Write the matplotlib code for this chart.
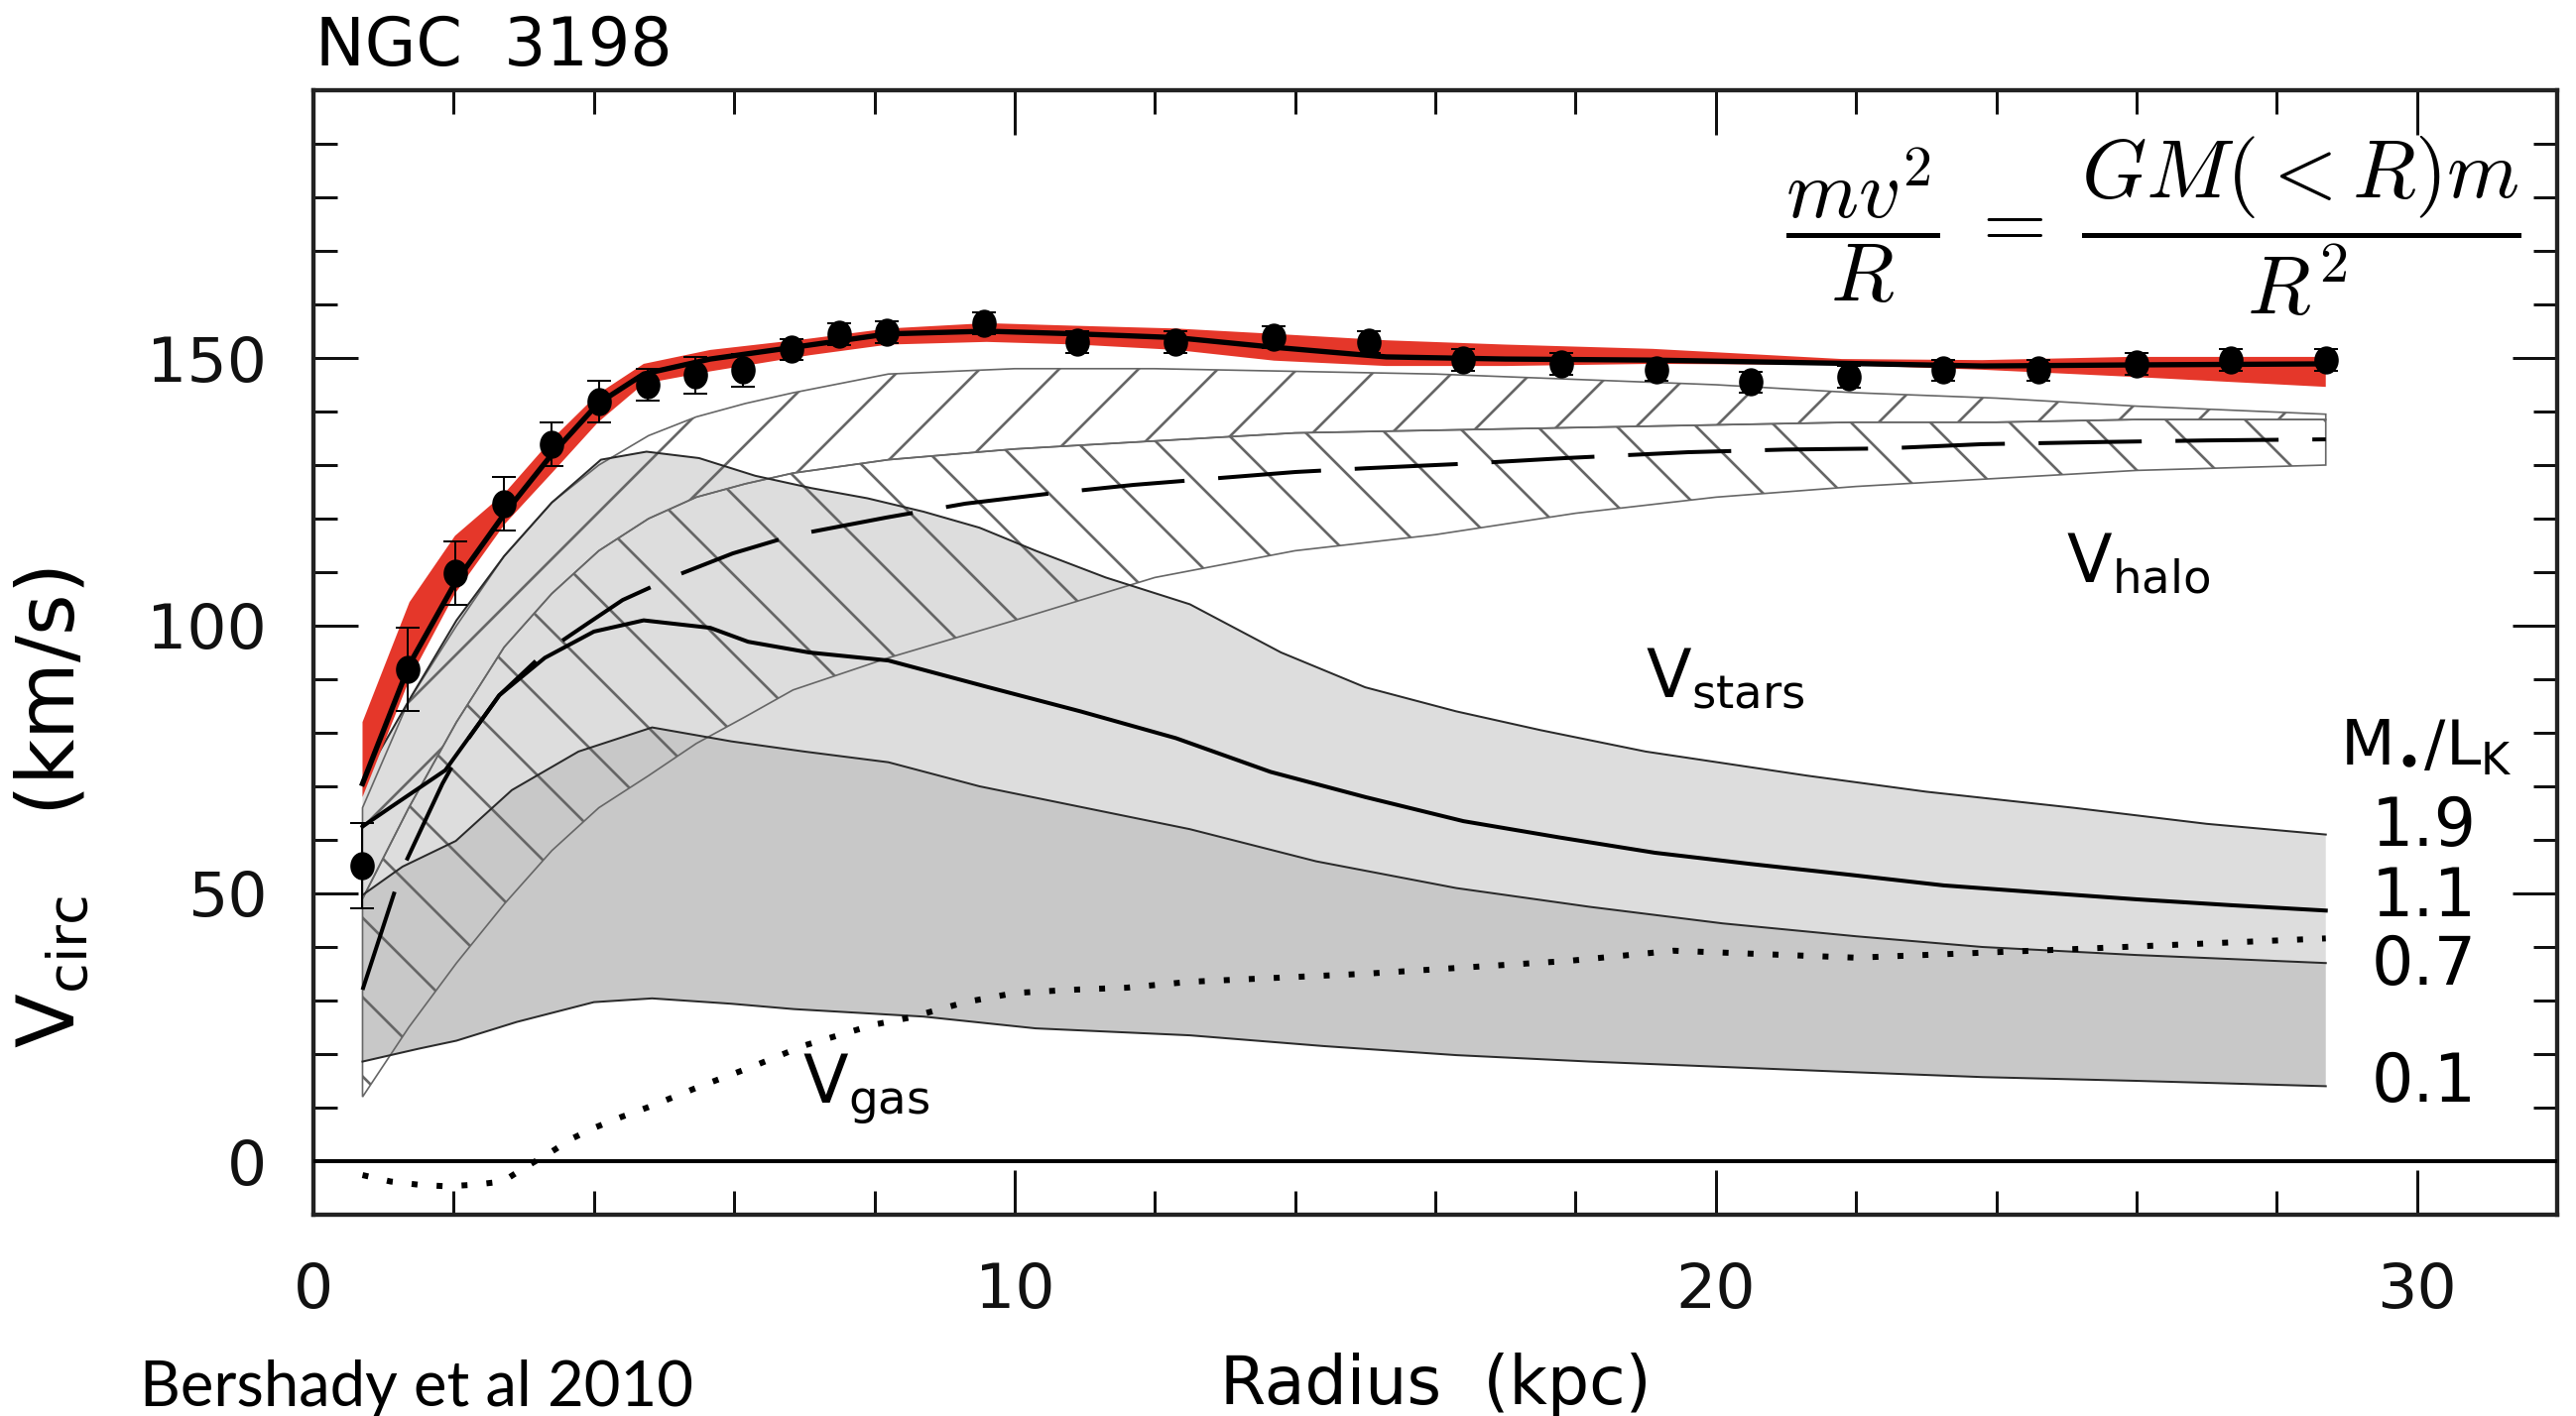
import numpy as np
import matplotlib
matplotlib.use("Agg")
import matplotlib.pyplot as plt
from matplotlib.path import Path
from matplotlib.transforms import Affine2D

plt.rcParams['font.family'] = ['DejaVu Sans']
plt.rcParams['hatch.linewidth'] = 0.8

DPI = 240

# measured rotation curve
r_obs = [0.7, 1.34, 2.02, 2.72, 3.39, 4.07, 4.77, 5.45, 6.12, 6.82, 7.5, 8.17, 9.56,
         10.9, 12.3, 13.7, 15.05, 16.4, 17.8, 19.15, 20.5, 21.9, 23.25, 24.6, 26.0, 27.35, 28.7]
v_obs = [55.2, 91.8, 109.8, 122.7, 133.9, 141.8, 145.0, 146.8, 147.7, 151.6, 154.5, 154.8, 156.5,
         153.0, 153.0, 153.9, 153.0, 149.6, 148.9, 147.7, 145.5, 146.5, 147.7, 147.7, 148.9, 149.6, 149.6]
v_err = [8, 7.8, 5.9, 5, 4, 3.9, 3, 3.4, 3, 2, 2, 2, 2, 2, 2, 2, 2, 2, 2, 2, 2, 2, 2, 2, 2, 2, 2]

# total model fit and its uncertainty band
r_fit = [0.7, 1.37, 2.02, 2.73, 3.4, 4.06, 4.71, 5.66, 7.07, 8.2, 9.6, 10.9, 12.3, 13.7,
         15.3, 17.0, 19.1, 21.8, 23.8, 25.9, 28.7]
v_fit = [70.5, 92.8, 108, 121, 132, 141.5, 147, 149.8, 152.4, 154.5, 155, 154.5, 153.8, 152.0,
         150.2, 149.8, 149.6, 149.0, 148.5, 148.7, 148.9]
v_fit_hi = [82, 104.4, 116.8, 124.8, 134.8, 143.3, 148.9, 151.5, 153.6, 155.5, 156.5, 156, 155.5,
            154.5, 153.3, 152.5, 151.7, 149.8, 149.6, 150.2, 150.2]
v_fit_lo = [68, 90, 106, 119, 128.5, 138, 145.2, 147.5, 150.5, 152.5, 153, 152.5, 151.5, 149.5,
            148.5, 148.5, 148.9, 148.7, 147.8, 146.5, 144.6]

# stellar disk for M*/L_K = 1.9, 1.1, 0.7, 0.1
r_s19 = [0.7, 1.36, 2.04, 2.72, 3.4, 4.1, 4.75, 5.5, 6.3, 7.1, 7.9, 8.7, 9.5, 10.3, 11.3, 12.5,
         13.8, 15.0, 16.3, 17.5, 19.0, 21.3, 23.0, 25.1, 27.0, 28.7]
v_s19 = [71, 86, 101, 113, 123, 131, 132.5, 131.3, 128, 125.7, 123.8, 121.3, 118.3, 114, 109, 104,
         95, 88.5, 84, 80.5, 76.5, 72, 69, 66, 63, 61]
r_s11 = [0.7, 1.09, 1.88, 2.65, 3.3, 4.0, 4.71, 5.66, 6.2, 7.07, 8.2, 9.6, 10.94, 12.3, 13.65,
         15.0, 16.4, 17.75, 19.13, 20.5, 21.9, 23.25, 24.6, 26.0, 27.35, 28.7]
v_s11 = [62.5, 66, 73, 87, 94, 98.9, 101, 99.6, 97, 95, 93.5, 88.6, 84, 79, 72.7, 68, 63.5, 60.5,
         57.6, 55.5, 53.5, 51.5, 50.2, 48.9, 47.8, 46.8]
r_s07 = [0.7, 1.27, 2.03, 2.83, 3.78, 4.83, 5.96, 7.0, 8.2, 9.5, 11.0, 12.5, 14.3, 16.3, 18.2,
         20.1, 22.0, 23.8, 26.0, 28.7]
v_s07 = [49.7, 55, 59.8, 69.3, 76.5, 81, 78.4, 76.5, 74.5, 70, 66, 62, 56, 51, 47.5, 44.4, 42, 40,
         38.5, 37]
r_s01 = [0.7, 1.5, 2.04, 2.9, 4.0, 4.83, 5.96, 6.85, 8.7, 10.3, 12.5, 14.4, 16.3, 18.2, 20.1,
         22.0, 23.8, 26.0, 28.7]
v_s01 = [18.6, 21, 22.5, 26, 29.7, 30.4, 29.4, 28.4, 27, 24.8, 23.5, 21.5, 19.8, 18.6, 17.6,
         16.6, 15.7, 15, 14]

# dark halo for the same range of M*/L_K
r_halo = [0.7, 1.36, 2.04, 2.72, 3.4, 4.07, 4.78, 5.46, 6.16, 6.84, 8.2, 10, 12, 14, 16, 18, 20,
          22, 24, 26, 28.7]
v_halo_01 = [66, 86, 100, 113, 123, 130, 135.5, 139, 141.5, 143.5, 147, 148, 148, 147.5, 147,
             146, 145, 143.5, 142.5, 141, 139.5]
v_halo_07 = [49, 66, 82, 96, 106, 114, 120, 124, 126.5, 128.5, 131, 133, 134.5, 136, 136.5, 137,
             137.5, 138, 138, 138.5, 138.5]
v_halo_19 = [12, 25, 37, 48, 58, 66, 72, 78, 83, 88, 94, 101, 109, 114, 117, 121, 124, 126,
             127.5, 129, 130]
r_h11 = [0.7, 1.25, 1.84, 2.16, 2.65, 3.3, 3.92, 4.41, 5.2, 5.98, 6.85, 8.17, 9.3, 10.45, 11.7,
         12.75, 14.0, 15.0, 16.5, 17.85, 19.6, 21.0, 22.4, 23.8, 25.5, 27.0, 28.7]
v_h11 = [32, 54, 70.5, 78, 87, 95, 100.5, 104.8, 109.5, 113.5, 116.9, 120.2, 122.8, 124.6, 126.3,
         127.4, 128.7, 129.4, 130.3, 131.3, 132.4, 132.9, 133.1, 133.9, 134.3, 134.6, 134.8]

# atomic gas
r_gas = [0.7, 1.1, 1.5, 1.9, 2.3, 2.7, 3.0, 3.4, 3.7, 4.0, 4.4, 4.8, 5.5, 6.25, 7.0, 8.0, 8.5,
         9.3, 10.0, 10.8, 11.6, 12.5, 15.0, 17.9, 19.4, 22.0, 25.1, 28.7]
v_gas = [-2.6, -3.8, -4.4, -4.7, -4.4, -3.8, -1.3, 1.8, 4.3, 6.2, 8.3, 10.2, 13.9, 17.6, 21.6,
         25.5, 26.8, 29.7, 31.4, 32, 32.4, 33.5, 35, 37.4, 39.3, 38, 39.6, 41.6]

ml_values = ['1.9', '1.1', '0.7', '0.1']
ml_label_y = [62.4, 49.2, 36.5, 14.6]


def band(ax, x_hi, y_hi, x_lo, y_lo, **kw):
    xs = np.r_[x_hi, x_lo[::-1]]
    ys = np.r_[y_hi, y_lo[::-1]]
    return ax.fill(xs, ys, **kw)


# slightly tall oval for the data points
oval = Affine2D().scale(0.85, 1.0).transform_path(Path.unit_circle())

fig = plt.figure(figsize=(2597 / DPI, 1428 / DPI), dpi=DPI)
ax = fig.add_axes([316 / 2597, 1 - 1225 / 1428, 2262 / 2597, 1134 / 1428])

# stellar bands
band(ax, r_s19, v_s19, r_s07, v_s07, facecolor='#dddddd', edgecolor='none', zorder=1)
band(ax, r_s07, v_s07, r_s01, v_s01, facecolor='#c8c8c8', edgecolor='none', zorder=1)
for rr, vv in [(r_s19, v_s19), (r_s07, v_s07), (r_s01, v_s01)]:
    ax.plot(rr, vv, color='#2a2a2a', lw=0.6, zorder=3)

# halo bands, hatched
band(ax, r_halo, v_halo_01, r_halo, v_halo_07, facecolor='none', edgecolor='#666666',
     hatch='/', lw=0.5, zorder=2)
band(ax, r_halo, v_halo_07, r_halo, v_halo_19, facecolor='none', edgecolor='#666666',
     hatch='\\', lw=0.5, zorder=2)

ax.plot(r_s11, v_s11, color='k', lw=1.2, zorder=4)
ax.plot(r_h11, v_h11, color='k', lw=1.2, dashes=(26, 8.5), zorder=4)
ax.plot(r_gas, v_gas, color='k', lw=1.8, dashes=(1, 3.2), zorder=4)

# total fit
band(ax, r_fit, v_fit_hi, r_fit, v_fit_lo, facecolor='#e5372a', edgecolor='none', zorder=5)
ax.plot(r_fit, v_fit, color='k', lw=1.6, zorder=6)
ax.errorbar(r_obs, v_obs, yerr=v_err, fmt='none', ecolor='k', elinewidth=0.6,
            capsize=3.5, capthick=0.6, zorder=7)
ax.plot(r_obs, v_obs, ls='none', marker=oval, ms=7.5, color='k', zorder=8)

ax.axhline(0, color='k', lw=1.2, zorder=4)

ax.set_xlim(0, 32)
ax.set_ylim(-10, 200)
ax.set_xticks([0, 10, 20, 30])
ax.set_xticks(np.arange(0, 32, 2), minor=True)
ax.set_yticks([0, 50, 100, 150])
ax.set_yticks(np.arange(-10, 200, 10), minor=True)
ax.tick_params(which='both', direction='in', top=True, right=True, width=0.9,
               labelsize=19, pad=14, colors='#111111')
ax.tick_params(which='major', length=13.5)
ax.tick_params(which='minor', length=7.2)
for s in ax.spines.values():
    s.set_linewidth(1.3)
    s.set_color('#222222')

ax.set_xlabel('Radius  (kpc)', fontsize=20)
ax.xaxis.set_label_coords(0.5, -(1416 - 1225) / 1134)
ax.xaxis.label.set_verticalalignment('baseline')
ax.set_ylabel(r'V$_{\rm circ}$   (km/s)', fontsize=24)
ax.yaxis.set_label_coords(-(316 - 53) / 2262, (1225 - 815) / 1134)
ax.yaxis.label.set_verticalalignment('center')

fig.text(318 / 2597, 1 - 66 / 1428, 'NGC  3198', fontsize=20, ha='left', va='baseline')

# component labels
ax.text(25.0, 108, r'V$_{\rm halo}$', fontsize=20)
ax.text(19.0, 86.5, r'V$_{\rm stars}$', fontsize=20)
ax.text(6.98, 10.7, r'V$_{\rm gas}$', fontsize=20)
ax.text(28.9, 74, r'M$_{\bullet}$/L$_{\rm K}$', fontsize=19)
for lab, yy in zip(ml_values, ml_label_y):
    ax.text(30.1, yy, lab, fontsize=20, ha='center', va='center')

fig.text(0.836, 1 - 228 / 1428, r'$\dfrac{mv^2}{R} \;=\; \dfrac{GM(<R)m}{R^2}$',
         fontsize=25, ha='center', va='center', math_fontfamily='cm')
fig.text(141 / 2597, 1 - 1418 / 1428, 'Bershady et al 2010', fontsize=19,
         family=['Lato', 'DejaVu Sans'], ha='left', va='baseline')

fig.savefig('out.png', dpi=DPI)
